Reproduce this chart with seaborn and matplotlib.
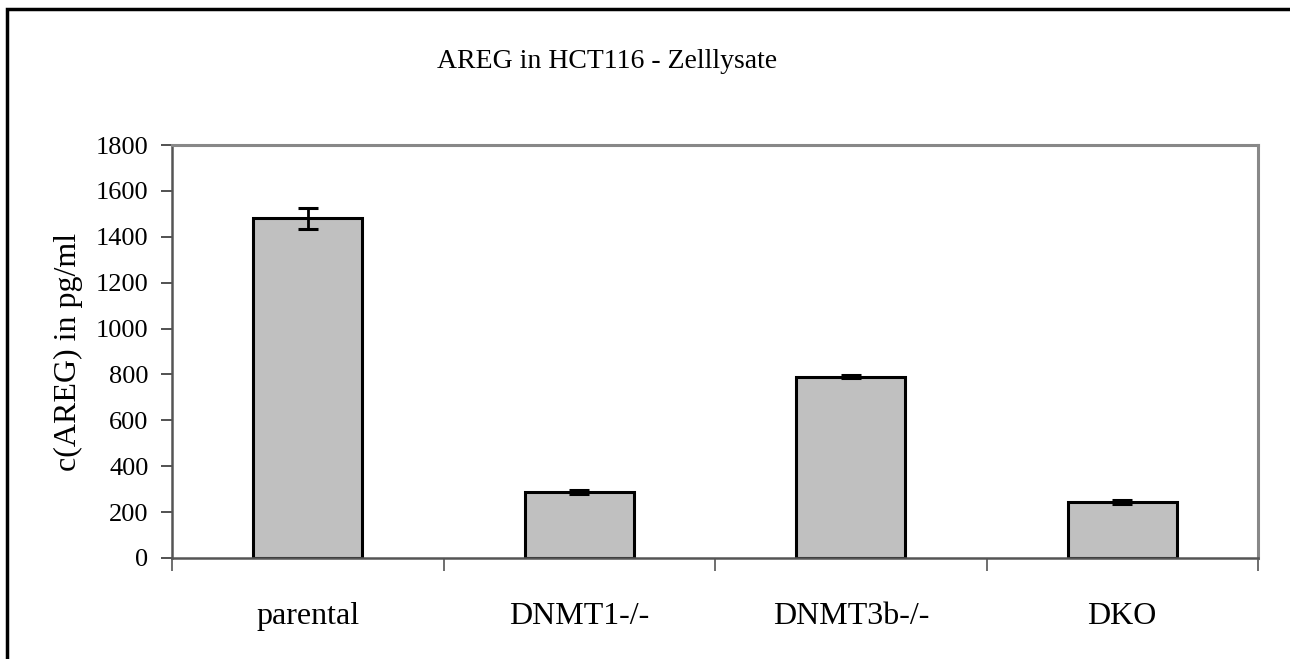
import numpy as np
import pandas as pd
import matplotlib
matplotlib.use("Agg")
import matplotlib.pyplot as plt
import seaborn as sns
from matplotlib.patches import Rectangle

categories = ["parental", "DNMT1-/-", "DNMT3b-/-", "DKO"]
values = [1480, 289, 791, 245]
errors = [45, 8, 5, 8]
y_ticks = [0, 200, 400, 600, 800, 1000, 1200, 1400, 1600, 1800]

sns.set_theme(style="white")
plt.rcParams['font.family'] = ['Liberation Serif', 'DejaVu Serif']
plt.rcParams['text.color'] = 'black'
plt.rcParams['axes.labelcolor'] = 'black'
plt.rcParams['xtick.color'] = 'black'
plt.rcParams['ytick.color'] = 'black'

df = pd.DataFrame({"cat": categories, "val": values})

fig = plt.figure(figsize=(12.9, 6.59), dpi=100)
ax = fig.add_axes([172/1290, 1-558/659, (1258-172)/1290, (558-145)/659])

sns.barplot(data=df, x="cat", y="val", color="#c0c0c0", saturation=1,
            edgecolor="black", linewidth=2.2, width=0.40, errorbar=None, ax=ax)
pos = np.arange(len(categories))
ax.errorbar(pos, values, yerr=errors, fmt="none", ecolor="black",
            elinewidth=2, capsize=7, capthick=2.2)

ax.set_xlim(-0.5, len(categories) - 0.5)
ax.set_ylim(0, 1800)
ax.set_yticks(y_ticks)
ax.set_yticklabels([str(t) for t in y_ticks], fontsize=19, color="black")
ax.set_xticks(np.arange(len(categories) + 1) - 0.5)
ax.set_xticklabels([])
ax.set_xticks(pos, minor=True)
ax.set_xticklabels(categories, minor=True, fontsize=23, color="black")
ax.tick_params(axis="x", which="minor", length=0, pad=32)
ax.tick_params(axis="x", which="major", length=9, width=1.2, color="#555555", direction="out", bottom=True)
ax.tick_params(axis="y", length=8, width=1.2, color="#333333", direction="out", left=True, pad=9)
ax.set_xlabel("")
ax.set_ylabel("c(AREG) in pg/ml", fontsize=23, labelpad=9, color="black")

for side in ["top", "right"]:
    ax.spines[side].set_color("#888888")
    ax.spines[side].set_linewidth(2.2)
for side in ["left", "bottom"]:
    ax.spines[side].set_color("#555555")
    ax.spines[side].set_linewidth(1.8)

fig.text(607/1290, 1-61/659, "AREG in HCT116 - Zelllysate",
         ha="center", va="center", fontsize=20, color="black")

fig.patches.append(Rectangle((7/1290, -0.01), 1.02, 1-9/659+0.01, transform=fig.transFigure,
                             fill=False, edgecolor="black", linewidth=2.5))

fig.savefig("out.png", dpi=100)
